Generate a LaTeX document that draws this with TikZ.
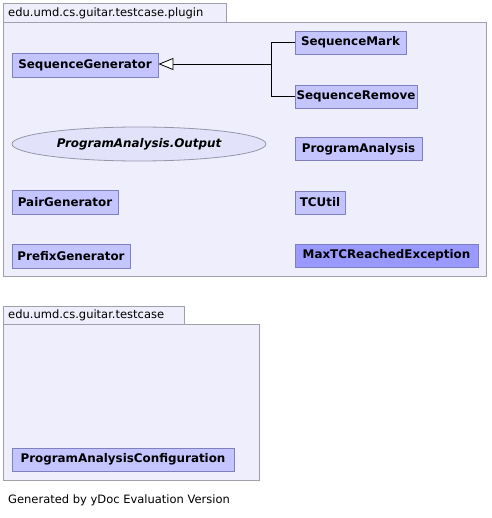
\documentclass[tikz,border=0pt]{standalone}
\usepackage{fontspec}
\setmainfont{DejaVu Sans}
\usetikzlibrary{arrows.meta,shapes.geometric}
\definecolor{pkgfill}{RGB}{238,238,252}
\definecolor{pkgline}{RGB}{160,160,170}
\definecolor{clsfill}{RGB}{196,196,255}
\definecolor{clsline}{RGB}{128,128,192}
\definecolor{excfill}{RGB}{153,153,255}
\definecolor{ellfill}{RGB}{226,226,250}
\definecolor{ellline}{RGB}{150,150,170}
\tikzset{
  pkg/.style={draw=pkgline, fill=pkgfill, line width=0.8pt},
  pkglabel/.style={anchor=west, inner sep=0pt, font=\fontsize{11.5}{13}\selectfont},
  cls/.style={draw=clsline, fill=clsfill, line width=0.8pt, inner sep=0pt, font=\fontsize{11.9}{13}\selectfont\bfseries},
  exc/.style={cls, fill=excfill},
  ifc/.style={ellipse, draw=ellline, fill=ellfill, line width=0.8pt, inner sep=0pt, font=\fontsize{11.9}{13}\selectfont\bfseries\itshape},
  gen/.style={draw=black, line width=0.8pt}
}
\begin{document}
\begin{tikzpicture}[x=1pt,y=-1pt]
\useasboundingbox[fill=white] (0,0) rectangle (491,518);
% package 1
\draw[pkg] (3,3) rectangle (226,22);
\draw[pkg] (3,22) rectangle (486,276);
\node[pkglabel] (p1label) at (8,13) {edu.umd.cs.guitar.testcase.plugin};
% package 2
\draw[pkg] (3,306) rectangle (184,324);
\draw[pkg] (3,324) rectangle (259,480);
\node[pkglabel] (p2label) at (8,315.5) {edu.umd.cs.guitar.testcase};
% classes
\node[cls, minimum width=146pt, minimum height=24pt] (sg) at (85,65) {SequenceGenerator};
\node[cls, minimum width=111pt, minimum height=23pt] (sm) at (350.5,42.5) {SequenceMark};
\node[cls, minimum width=122pt, minimum height=23pt] (sr) at (356,96.5) {SequenceRemove};
\node[cls, minimum width=127pt, minimum height=23pt] (pa) at (358.5,149) {ProgramAnalysis};
\node[cls, minimum width=50pt, minimum height=23pt] (tc) at (320,202.5) {TCUtil};
\node[exc, minimum width=183pt, minimum height=23pt] (mx) at (386.5,255.5) {MaxTCReachedException};
\node[cls, minimum width=106pt, minimum height=24pt] (pg) at (65,202) {PairGenerator};
\node[cls, minimum width=118pt, minimum height=24pt] (pf) at (71,256) {PrefixGenerator};
\node[cls, minimum width=222pt, minimum height=23pt] (pac) at (123,459.5) {ProgramAnalysisConfiguration};
\node[ifc, minimum width=254pt, minimum height=34pt] (out) at (139,144) {ProgramAnalysis.Output};
% generalization
\coordinate (j) at (271,64);
\draw[gen] (sm.west) -| (j);
\draw[gen] (sr.west) -| (j);
\draw[gen, -{Triangle[fill=white, length=15pt, width=12pt]}] (j) -- (sg.east |- j);
% footer
\node[pkglabel] (footer) at (8,500.5) {Generated by yDoc Evaluation Version};
\end{tikzpicture}
\end{document}
